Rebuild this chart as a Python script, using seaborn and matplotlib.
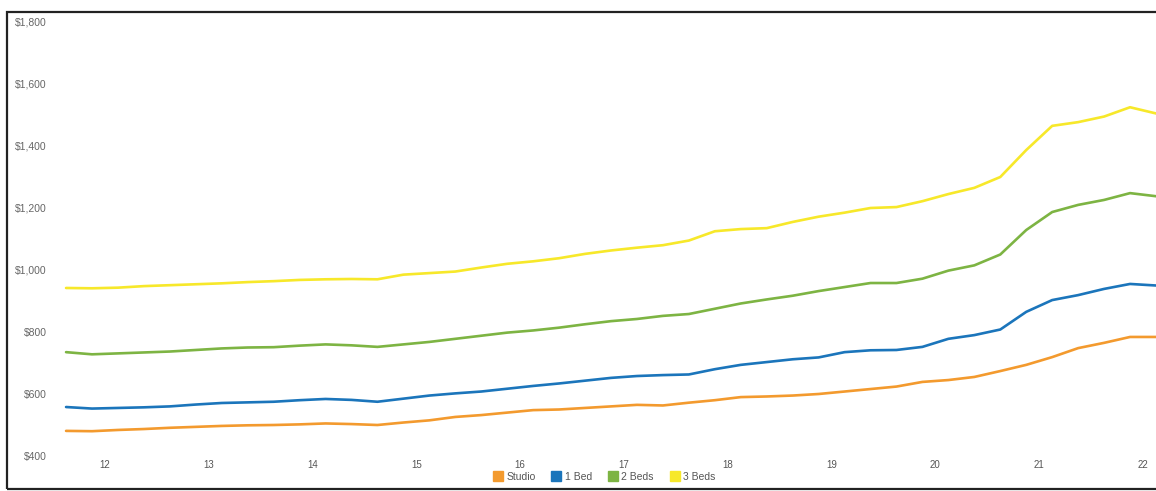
import numpy as np
import pandas as pd
import matplotlib
matplotlib.use("Agg")
import matplotlib.pyplot as plt
import seaborn as sns
from matplotlib.patches import Rectangle

# ---- data (quarterly) ----
start_year = 11.625
studio = [481, 480, 484, 487, 491, 494, 497, 499, 500, 502, 505, 503, 500, 508, 515,
          526, 532, 540, 548, 550, 555, 560, 565, 563, 572, 580, 590, 592, 595, 600,
          608, 616, 624, 639, 645, 655, 674, 694, 719, 748, 765, 784, 784]
one_bed = [558, 553, 555, 557, 560, 566, 571, 573, 575, 580, 584, 581, 575, 585, 595,
           602, 608, 617, 626, 634, 643, 652, 658, 661, 663, 680, 694, 703, 712, 718,
           735, 741, 742, 752, 778, 790, 808, 865, 903, 919, 939, 955, 950]
two_beds = [735, 728, 731, 734, 737, 742, 747, 750, 751, 756, 760, 757, 752, 760, 768,
            778, 788, 798, 805, 814, 825, 835, 842, 852, 858, 875, 892, 905, 917, 932,
            945, 958, 958, 972, 998, 1015, 1050, 1129, 1187, 1210, 1226, 1248, 1238]
three_beds = [942, 941, 943, 948, 951, 954, 957, 961, 964, 968, 970, 971, 970, 985, 990,
              995, 1008, 1020, 1028, 1038, 1052, 1063, 1072, 1080, 1095, 1125, 1132, 1135, 1155, 1172,
              1185, 1200, 1203, 1222, 1245, 1265, 1300, 1387, 1465, 1477, 1495, 1525, 1505]
series_names = ["Studio", "1 Bed", "2 Beds", "3 Beds"]
colors = ["#F39A2E", "#1B75BB", "#7DB443", "#F7E82A"]
year_ticks = list(range(12, 23))
year_labels = [str(y) for y in year_ticks]
y_ticks = [400, 600, 800, 1000, 1200, 1400, 1600, 1800]
y_labels = ["$400", "$600", "$800", "$1,000", "$1,200", "$1,400", "$1,600", "$1,800"]

n = len(studio)
t = start_year + 0.25 * np.arange(n)
df = pd.DataFrame({"t": np.tile(t, 4),
                   "rent": studio + one_bed + two_beds + three_beds,
                   "type": np.repeat(series_names, n)})

W, H = 1156, 491
fig = plt.figure(figsize=(W / 100, H / 100), dpi=100)
sns.set_style("white")
plt.rcParams["font.family"] = ["Liberation Sans", "DejaVu Sans"]

ax = fig.add_axes([62 / W, 1 - 456 / H, (W - 62) / W, (456 - 22) / H])
sns.lineplot(data=df, x="t", y="rent", hue="type", palette=colors,
             hue_order=series_names, linewidth=1.9, ax=ax, legend=False)

ax.set_xlabel("")
ax.set_ylabel("")
for s in ax.spines.values():
    s.set_visible(False)

ax.set_yticks(y_ticks)
ax.set_yticklabels(y_labels, fontsize=7.5, color="#666666")
ax.tick_params(axis="y", length=0, pad=11)

ax.set_xticks(year_ticks)
ax.set_xticklabels(year_labels, fontsize=7, color="#555555")
ax.set_xticks(start_year + 0.25 * np.arange(0, n), minor=True)
ax.tick_params(axis="x", which="major", direction="in", length=5, width=0.8,
               color="#bbbbbb", pad=3)
ax.tick_params(axis="x", which="minor", direction="in", length=5, width=1.0,
               color="#b8b8b8")

# limits last (setting ticks may widen them)
ax.set_xlim(11.586, 22.125)
ax.set_ylim(400, 1800)

# legend
handles = [plt.Line2D([], [], marker="s", linestyle="", markersize=7,
                      markerfacecolor=c, markeredgecolor=c) for c in colors]
fig.legend(handles, series_names, loc="center", bbox_to_anchor=(604 / W, 1 - 477 / H),
           ncol=4, frameon=False, fontsize=7.5, handletextpad=0.3, columnspacing=1.5,
           handlelength=1.0, labelcolor="#555555")

# outer frame of the scanned chart
fig.patches.append(Rectangle((7 / W, 1 - 489 / H), (W + 10) / W, (489 - 12) / H,
                             transform=fig.transFigure, fill=False,
                             edgecolor="#222222", linewidth=1.6, zorder=10))

fig.savefig("out.png", dpi=100, facecolor="white")
